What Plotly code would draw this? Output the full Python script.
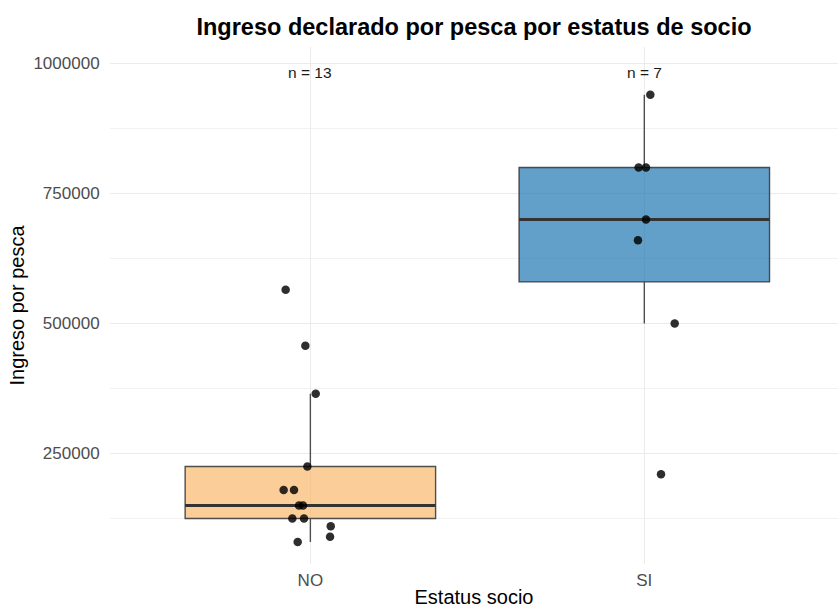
import numpy as np
import plotly.graph_objects as go

categories = ["NO", "SI"]
ingreso_no = [565000, 457000, 365000, 225000, 180000, 180000, 150000, 150000,
              125000, 125000, 110000, 90000, 80000]
ingreso_si = [940000, 800000, 800000, 700000, 660000, 500000, 210000]
# horizontal jitter offsets (category units)
jitter_no = [-0.074, -0.015, 0.016, -0.009, -0.080, -0.049, -0.034, -0.022,
             -0.054, -0.019, 0.061, 0.059, -0.038]
jitter_si = [0.018, -0.017, 0.005, 0.005, -0.019, 0.091, 0.050]

values = [ingreso_no, ingreso_si]
jitters = [jitter_no, jitter_si]
fills = ["rgba(250,185,110,0.7)", "rgba(31,120,180,0.7)"]
font = "Liberation Sans, Arial, sans-serif"
box_w = 0.75

fig = go.Figure()
for i, (cat, vals) in enumerate(zip(categories, values)):
    arr = np.asarray(vals, dtype=float)
    q1, med, q3 = np.percentile(arr, [25, 50, 75])
    iqr = q3 - q1
    lo = arr[arr >= q1 - 1.5 * iqr].min()
    hi = arr[arr <= q3 + 1.5 * iqr].max()
    fig.add_trace(go.Box(
        x=[i], q1=[q1], median=[med], q3=[q3], lowerfence=[lo], upperfence=[hi],
        name=cat, width=box_w,
        fillcolor=fills[i], line=dict(color="rgba(51,51,51,0.85)", width=1.4),
        whiskerwidth=0, hoverinfo="skip", showlegend=False))
    fig.add_trace(go.Scatter(
        x=[i - box_w / 2, i + box_w / 2], y=[med, med], mode="lines",
        line=dict(color="#333333", width=2.8), hoverinfo="skip", showlegend=False))

for i, (vals, jit) in enumerate(zip(values, jitters)):
    fig.add_trace(go.Scatter(
        x=[i + j for j in jit], y=vals, mode="markers",
        marker=dict(color="rgba(0,0,0,0.82)", size=8.5, line=dict(width=0)),
        showlegend=False))

for i, vals in enumerate(values):
    fig.add_annotation(x=i, y=1000000, text=f"n = {len(vals)}", showarrow=False,
                       yanchor="top", yshift=1,
                       font=dict(family=font, size=15.5, color="#1A1A1A"))

fig.update_layout(
    width=838, height=608,
    margin=dict(l=110, r=0, t=47, b=44),
    paper_bgcolor="white", plot_bgcolor="white",
    font=dict(family=font),
    title=dict(text="<b>Ingreso declarado por pesca por estatus de socio</b>",
               x=0.5, xref="paper", y=1 - 27 / 608, yref="container",
               yanchor="middle", xanchor="center",
               font=dict(family=font, size=23.5, color="#000000")),
    xaxis=dict(range=[-0.6, 1.58], tickvals=[0, 1], ticktext=categories,
               showgrid=True, gridcolor="#EBEBEB", gridwidth=1, zeroline=False,
               ticks="outside", ticklen=1, tickcolor="rgba(0,0,0,0)",
               automargin=False,
               tickfont=dict(family=font, size=17, color="#4D4D4D"),
               title=dict(text="Estatus socio", standoff=6,
                          font=dict(family=font, size=20, color="#000000"))),
    yaxis=dict(range=[37500, 1031700], tickvals=[250000, 500000, 750000, 1000000],
               ticktext=["250000", "500000", "750000", "1000000"],
               showgrid=True, gridcolor="#EBEBEB", gridwidth=1, zeroline=False,
               ticks="outside", ticklen=6, tickcolor="rgba(0,0,0,0)",
               automargin=False,
               tickfont=dict(family=font, size=17, color="#4D4D4D"),
               minor=dict(tickvals=[125000, 375000, 625000, 875000], showgrid=True,
                          gridcolor="#F2F2F2", gridwidth=1),
               title=dict(text="Ingreso por pesca", standoff=3,
                          font=dict(family=font, size=20, color="#000000"))),
)

fig.write_html("out.html", config={"displayModeBar": False})
with open("out.html", encoding="utf-8") as f:
    html = f.read()
html = html.replace("<body>", '<body style="margin:0;overflow:hidden">', 1)
with open("out.html", "w", encoding="utf-8") as f:
    f.write(html)
